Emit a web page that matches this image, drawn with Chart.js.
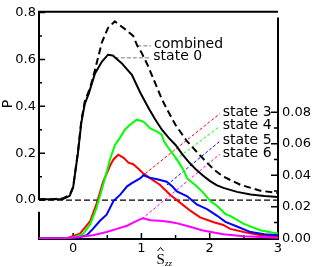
<!DOCTYPE html>
<html>
<head>
<meta charset="utf-8">
<script src="https://cdn.jsdelivr.net/npm/chart.js@4.4.1/dist/chart.umd.min.js"></script>
<style>
  body { margin: 0; background: #fff; }
  canvas { display: block; }
</style>
</head>
<body>
<canvas id="chart" width="312" height="267"></canvas>
<script>
// ---- data (x = S_zz) --------------------------------------------------

// black curves, left axis (P)
const combined = [[-0.5,.004],[-0.3,.004],[-0.15,.007],[-0.05,.022],[0,.056],[0.07,.205],[0.12,.34],[0.17,.42],
  [0.25,.48],[0.32,.555],[0.42,.672],[0.51,.734],[0.61,.762],[0.76,.729],[0.88,.70],[0.94,.658],[1.0,.63],
  [1.1,.57],[1.2,.50],[1.3,.43],[1.37,.39],[1.5,.32],[1.67,.25],[1.86,.19],[2.06,.13],[2.2,.10],[2.45,.065],
  [2.74,.04],[3.0,.03]];
const state0 = [[-0.5,.003],[-0.3,.003],[-0.15,.005],[-0.05,.018],[0,.054],[0.07,.2],[0.12,.33],[0.17,.41],
  [0.23,.455],[0.32,.54],[0.42,.59],[0.51,.62],[0.58,.617],[0.71,.584],[0.86,.534],[0.98,.46],[1.1,.395],
  [1.2,.345],[1.3,.30],[1.4,.265],[1.5,.235],[1.6,.195],[1.7,.16],[1.8,.13],[1.9,.105],[2.0,.082],[2.1,.064],
  [2.2,.052],[2.4,.035],[2.6,.024],[2.8,.017],[3.0,.013]];

// coloured curves, right axis
const state3 = [[-0.5,0],[-0.1,0],[0.1,.003],[0.25,.011],[0.34,.0215],[0.44,.036],[0.54,.046],[0.59,.050],
  [0.66,.053],[0.74,.051],[0.81,.048],[0.88,.047],[0.96,.044],[1.03,.041],[1.13,.038],[1.27,.034],[1.42,.0277],
  [1.57,.0225],[1.72,.0174],[1.86,.0133],[2.06,.0102],[2.2,.0085],[2.3,.006],[2.5,.004],[2.75,.002],[3,.001]];
const state4 = [[-0.5,0],[-0.1,0],[0,.0005],[0.15,.003],[0.25,.009],[0.34,.019],[0.44,.034],[0.54,.050],
  [0.61,.059],[0.69,.064],[0.76,.069],[0.83,.0718],[0.93,.0752],[1.03,.074],[1.13,.0697],[1.23,.0677],
  [1.3,.0656],[1.33,.0615],[1.4,.057],[1.47,.053],[1.55,.048],[1.62,.043],[1.67,.038],[1.81,.033],[1.91,.0287],
  [2.01,.0236],[2.11,.0205],[2.23,.0154],[2.3,.0143],[2.5,.0092],[2.75,.005],[3,.003]];
const state5 = [[-0.5,0],[0,0],[0.05,.0003],[0.2,.002],[0.29,.006],[0.39,.011],[0.49,.015],[0.59,.0236],
  [0.69,.0277],[0.79,.033],[0.86,.035],[0.98,.038],[1.03,.040],[1.12,.0385],[1.23,.0375],[1.37,.0359],
  [1.45,.033],[1.52,.0297],[1.67,.0267],[1.81,.0215],[1.96,.0185],[2.11,.0143],[2.23,.0105],[2.4,.0075],
  [2.6,.004],[2.8,.0026],[3,.002]];
const state6 = [[-0.5,0],[-0.1,0],[0.1,.001],[0.29,.002],[0.49,.004],[0.64,.006],[0.79,.008],[0.88,.010],
  [1.0,.0125],[1.03,.0127],[1.13,.0115],[1.27,.0112],[1.4,.0106],[1.5,.0098],[1.7,.0075],[1.9,.005],
  [2.2,.0026],[2.5,.0014],[3,.0004]];

// horizontal reference at P = 0
const zeroLine = [[-0.5,0],[3,0]];

// label leader lines (data coords) and texts
const comboLink = [[0.94,0.658],[1.14,0.658]];
const state0Link = [[0.61,0.607],[1.13,0.607]];
const state3Link = [[1.054,0.041],[2.147,0.079]];
const state4Link = [[1.5,0.050],[2.147,0.0709]];
const state5Link = [[1.373,0.0338],[2.147,0.0615]];
const state6Link = [[1.006,0.0123],[2.147,0.0533]];
const labelNames = ['combined','state 0','state 3','state 4','state 5','state 6'];

// ticks
const xTicks = [0,1,2,3];
const xMinor = [0.5,1.5,2.5];
const pTicks = [0,0.2,0.4,0.6,0.8];
const pMinor = [0.1,0.3,0.5,0.7];
const rTicks = [0,0.02,0.04,0.06,0.08];
const rMinor = [0.01,0.03,0.05,0.07];

// -----------------------------------------------------------------------

const FONT = 'DejaVu Sans';
const pts = arr => arr.map(p => ({x: p[0], y: p[1]}));

function curve(data, color, axis, extra) {
  return Object.assign({
    data: pts(data), yAxisID: axis, borderColor: color, borderWidth: 2,
    pointRadius: 0, tension: 0, fill: false
  }, extra || {});
}

const links = [
  {data: comboLink, axis: 'y', color: '#a8a8a8', name: labelNames[0]},
  {data: state0Link, axis: 'y', color: '#a8a8a8', name: labelNames[1]},
  {data: state3Link, axis: 'y2', color: '#ff0000', name: labelNames[2]},
  {data: state4Link, axis: 'y2', color: '#00ff00', name: labelNames[3]},
  {data: state5Link, axis: 'y2', color: '#0000ff', name: labelNames[4]},
  {data: state6Link, axis: 'y2', color: '#ff00ff', name: labelNames[5]}
];

const datasets = [
  curve(state0, '#000', 'y', {order: 0}),
  curve(combined, '#000', 'y', {order: 1, borderDash: [7, 4]}),
  curve(state6, '#ff00ff', 'y2', {order: 2}),
  curve(state5, '#0000ff', 'y2', {order: 3}),
  curve(state4, '#00ff00', 'y2', {order: 4}),
  curve(state3, '#ff0000', 'y2', {order: 5}),
  curve(zeroLine, '#000', 'y', {order: 6, borderWidth: 1.2, borderDash: [6, 3]})
];
links.forEach((l, i) => {
  const gray = l.axis === 'y';
  datasets.push(curve(l.data, l.color, l.axis, {
    order: 7 + i, borderWidth: gray ? 1.5 : 1, borderDash: gray ? [4, 2] : [3, 2]
  }));
});

const frame = {
  id: 'frame',
  beforeDatasetsDraw(chart) {
    const ctx = chart.ctx, a = chart.chartArea;
    const sx = chart.scales.x, sy = chart.scales.y, sr = chart.scales.y2;
    ctx.save();
    ctx.strokeStyle = '#000';
    ctx.lineWidth = 2;
    ctx.beginPath();
    // top + upper left spine
    ctx.moveTo(a.right, a.top); ctx.lineTo(a.left, a.top); ctx.lineTo(a.left, sy.getPixelForValue(0));
    // lower left + bottom + right spine
    ctx.moveTo(a.left, sy.getPixelForValue(-0.05)); ctx.lineTo(a.left, a.bottom);
    ctx.lineTo(a.right, a.bottom); ctx.lineTo(a.right, sr.getPixelForValue(0.14));
    ctx.stroke();

    ctx.lineWidth = 1.5;
    ctx.beginPath();
    pTicks.forEach(v => { const y = sy.getPixelForValue(v); ctx.moveTo(a.left, y); ctx.lineTo(a.left + 6, y); });
    pMinor.forEach(v => { const y = sy.getPixelForValue(v); ctx.moveTo(a.left, y); ctx.lineTo(a.left + 3, y); });
    rTicks.forEach(v => { const y = sr.getPixelForValue(v); ctx.moveTo(a.right, y); ctx.lineTo(a.right - 7, y); });
    rMinor.forEach(v => { const y = sr.getPixelForValue(v); ctx.moveTo(a.right, y); ctx.lineTo(a.right - 4, y); });
    xTicks.forEach(v => { const x = sx.getPixelForValue(v); ctx.moveTo(x, a.bottom); ctx.lineTo(x, a.bottom - 6); });
    xMinor.forEach(v => { const x = sx.getPixelForValue(v); ctx.moveTo(x, a.bottom); ctx.lineTo(x, a.bottom - 4); });
    ctx.stroke();
    ctx.restore();
  },
  afterDraw(chart) {
    const ctx = chart.ctx, sx = chart.scales.x;
    ctx.save();
    ctx.fillStyle = '#000';
    ctx.textBaseline = 'middle';
    ctx.font = '14px ' + FONT;
    links.forEach(l => {
      const end = l.data[1];
      const x = sx.getPixelForValue(end[0]) + 3;
      const y = chart.scales[l.axis].getPixelForValue(end[1]) - 1;
      ctx.fillText(l.name, x, y);
    });

    // y title
    ctx.save();
    ctx.translate(8, 104);
    ctx.rotate(-Math.PI / 2);
    ctx.textAlign = 'center';
    ctx.font = '14px ' + FONT;
    ctx.fillText('P', 0, 0);
    ctx.restore();

    // x title: S hat, subscript zz
    ctx.textBaseline = 'alphabetic';
    ctx.font = '15px "Liberation Serif"';
    ctx.fillText('S', 156.5, 264);
    ctx.strokeStyle = '#000';
    ctx.lineWidth = 1;
    ctx.beginPath();
    ctx.moveTo(157.5, 251); ctx.lineTo(160.5, 247.5); ctx.lineTo(163.5, 251);
    ctx.stroke();
    ctx.font = 'italic 9px "Liberation Serif"';
    ctx.fillText('zz', 165, 266);
    ctx.restore();
  }
};

const tickFont = {family: FONT, size: 13};

new Chart(document.getElementById('chart'), {
  type: 'line',
  data: {datasets: datasets},
  options: {
    responsive: false,
    animation: false,
    events: [],
    layout: {padding: {top: 5, left: 0, right: 0, bottom: 0}},
    plugins: {legend: {display: false}, tooltip: {enabled: false}},
    scales: {
      x: {
        type: 'linear', min: -0.5, max: 3,
        grid: {display: false, drawTicks: false}, border: {display: false},
        ticks: {font: tickFont, color: '#000', padding: 2, maxRotation: 0, callback: v => String(v)},
        afterBuildTicks: s => { s.ticks = xTicks.map(v => ({value: v})); },
        afterFit: s => { s.height = 28; }
      },
      y: {
        position: 'left', min: -0.166, max: 0.803,
        grid: {display: false, drawTicks: false}, border: {display: false},
        ticks: {font: tickFont, color: '#000', padding: 3, callback: v => v.toFixed(1)},
        afterBuildTicks: s => { s.ticks = pTicks.map(v => ({value: v})); },
        afterFit: s => { s.width = 39; }
      },
      y2: {
        position: 'right', min: -0.0004, max: 0.1436,
        grid: {display: false, drawTicks: false}, border: {display: false},
        ticks: {font: tickFont, color: '#000', padding: 4, callback: v => v.toFixed(2)},
        afterBuildTicks: s => { s.ticks = rTicks.map(v => ({value: v})); },
        afterFit: s => { s.width = 34; }
      }
    }
  },
  plugins: [frame]
});
</script>
</body>
</html>
